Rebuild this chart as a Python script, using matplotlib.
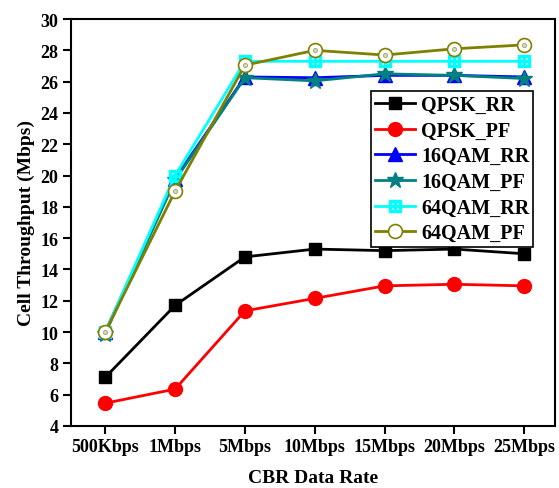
import matplotlib
matplotlib.use("Agg")
import matplotlib.pyplot as plt

categories = ["500Kbps", "1Mbps", "5Mbps", "10Mbps", "15Mbps", "20Mbps", "25Mbps"]
qpsk_rr = [7.1, 11.7, 14.8, 15.3, 15.2, 15.3, 15.0]
qpsk_pf = [5.45, 6.35, 11.35, 12.15, 12.95, 13.05, 12.95]
qam16_rr = [10.0, 19.8, 26.3, 26.25, 26.4, 26.4, 26.3]
qam16_pf = [9.9, 19.7, 26.25, 26.05, 26.5, 26.4, 26.2]
qam64_rr = [10.0, 20.0, 27.3, 27.3, 27.3, 27.3, 27.3]
qam64_pf = [10.0, 19.0, 27.05, 28.0, 27.7, 28.1, 28.35]

plt.rcParams['font.family'] = ['Liberation Serif', 'DejaVu Serif']
plt.rcParams['font.weight'] = 'bold'

fig = plt.figure(figsize=(5.59, 4.89), dpi=100)
ax = fig.add_axes([0.127, 0.127, 0.866, 0.832])
x = list(range(len(categories)))

ax.plot(x, qpsk_rr, color='black', marker='s', ms=9, lw=2, label='QPSK_RR')
ax.plot(x, qpsk_pf, color='red', marker='o', ms=10, lw=2, label='QPSK_PF')
ax.plot(x, qam16_rr, color='blue', marker='^', ms=10, lw=2, label='16QAM_RR')
ax.plot(x, qam16_pf, color='#008080', marker='*', ms=12, lw=2, label='16QAM_PF')
ax.plot(x, qam64_rr, color='cyan', marker='$\\boxplus$', ms=8, lw=2, label='64QAM_RR')
ax.plot(x, qam64_pf, color='#808000', marker='o', ms=10, lw=2, mfc='white',
        mec='#808000', mew=1.2, label='64QAM_PF')
ax.plot(x, qam64_pf, ls='none', marker='o', ms=3, mfc='#d8d8b8', mec='#a0a070', mew=0.6)

ax.set_xlim(-0.49, 6.44)
ax.set_ylim(4, 30)
ax.set_yticks(range(4, 31, 2))
ax.set_xticks(x)
ax.set_xticklabels(categories)
for s in ax.spines.values():
    s.set_linewidth(1.5)
ax.tick_params(direction='out', length=6, width=1.5, labelsize=13, pad=3)
for lab in ax.get_xticklabels() + ax.get_yticklabels():
    lab.set_fontweight('bold')
ax.set_xlabel('CBR Data Rate', fontsize=14, fontweight='bold', labelpad=10)
ax.set_ylabel('Cell Throughput (Mbps)', fontsize=14, fontweight='bold')

leg = ax.legend(loc='upper right', bbox_to_anchor=(0.955, 0.823), fancybox=False,
                edgecolor='black', framealpha=1, prop={'size': 14.5, 'weight': 'bold'},
                handlelength=2.0, borderpad=0.2, labelspacing=0.28, handletextpad=0.3,
                borderaxespad=0)
leg.get_frame().set_linewidth(1.2)

fig.savefig('out.png', dpi=100)
